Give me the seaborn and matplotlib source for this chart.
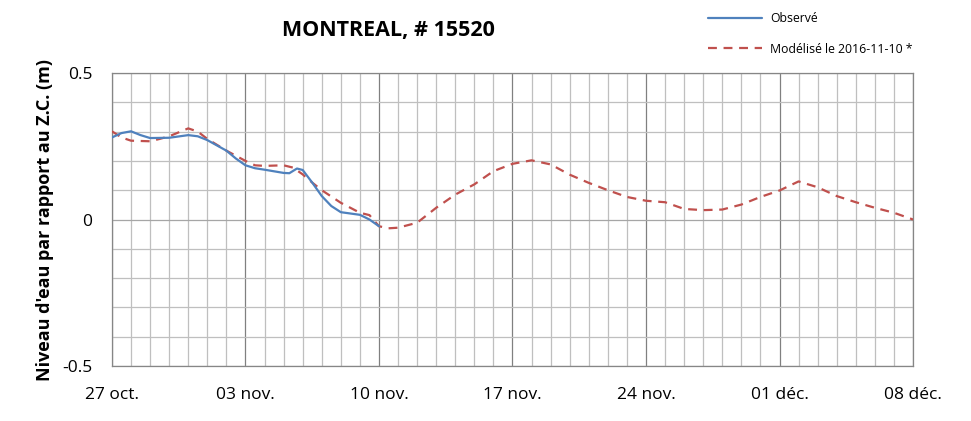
import pandas as pd
import numpy as np
import seaborn as sns
import matplotlib.pyplot as plt
import matplotlib.dates as mdates
from matplotlib.ticker import MultipleLocator

# days since 27 oct 2016
obs_days = [0, 0.5, 1, 1.5, 2, 3, 4, 4.5, 5, 6, 6.5, 7, 7.5, 8, 9, 9.3, 9.7, 10,
            10.5, 11, 11.5, 12, 13, 13.5, 14]
obs_vals = [0.28, 0.295, 0.301, 0.288, 0.278, 0.279, 0.288, 0.284, 0.271, 0.235, 0.208,
            0.185, 0.175, 0.170, 0.159, 0.158, 0.174, 0.169, 0.126, 0.080, 0.046, 0.025,
            0.016, 0.0, -0.023]

mod_days = [0, 0.5, 1, 2, 2.5, 3, 4, 4.5, 5, 6, 7, 7.5, 8, 9, 9.5, 10, 10.5, 11, 12, 13,
            13.5, 14, 14.5, 15, 16, 17, 18, 19, 20, 21, 22, 23, 24, 25, 26, 27, 28, 29,
            30, 31, 32, 33, 34, 35, 36, 37, 38, 39, 40, 41, 42]
mod_vals = [0.301, 0.28, 0.269, 0.267, 0.275, 0.284, 0.311, 0.30, 0.275, 0.235, 0.200,
            0.185, 0.183, 0.185, 0.177, 0.154, 0.126, 0.10, 0.057, 0.023, 0.015, -0.023,
            -0.03, -0.028, -0.011, 0.04, 0.085, 0.12, 0.165, 0.19, 0.202, 0.188, 0.153,
            0.125, 0.10, 0.077, 0.064, 0.059, 0.036, 0.032, 0.034, 0.051, 0.077, 0.099,
            0.13, 0.11, 0.08, 0.059, 0.04, 0.023, 0.0]

tick_labels = ['27 oct.', '03 nov.', '10 nov.', '17 nov.', '24 nov.', '01 déc.', '08 déc.']

start = pd.Timestamp('2016-10-27')
obs = pd.DataFrame({'date': start + pd.to_timedelta(obs_days, unit='D'), 'niveau': obs_vals})
mod = pd.DataFrame({'date': start + pd.to_timedelta(mod_days, unit='D'), 'niveau': mod_vals})

sns.set_style('white')
plt.rcParams['font.family'] = ['Open Sans', 'DejaVu Sans']
plt.rcParams.update({'text.color': 'black', 'axes.labelcolor': 'black',
                     'xtick.color': 'black', 'ytick.color': 'black'})

fig = plt.figure(figsize=(9.71, 4.21), dpi=100)
ax = fig.add_axes([0.1153, 0.1306, 0.825, 0.696])

sns.lineplot(data=obs, x='date', y='niveau', ax=ax, color='#4F81BD', linewidth=1.6,
             label='Observé', zorder=4)
sns.lineplot(data=mod, x='date', y='niveau', ax=ax, color='#C0504D', linewidth=1.6,
             label='Modélisé le 2016-11-10 *', zorder=3)
ax.lines[1].set_dashes([4, 3])

end = start + pd.Timedelta(days=42)
ax.set_xlim(start, end)
ax.set_ylim(-0.5, 0.5)

week_ticks = pd.date_range(start, end, freq='7D')
ax.set_xticks(week_ticks)
ax.set_xticklabels(tick_labels)
ax.xaxis.set_minor_locator(mdates.DayLocator())
ax.set_yticks([-0.5, 0, 0.5])
ax.set_yticklabels(['-0.5', '0', '0.5'])
ax.yaxis.set_minor_locator(MultipleLocator(0.1))

ax.grid(which='minor', color='#BFBFBF', linewidth=0.9)
ax.grid(which='major', axis='x', color='#808080', linewidth=0.9)
ax.grid(which='major', axis='y', color='#A6A6A6', linewidth=0.9)
ax.set_axisbelow(True)
ax.tick_params(which='both', length=0)
ax.tick_params(axis='x', labelsize=12.5, pad=15)
ax.tick_params(axis='y', labelsize=12.5, pad=14)
for s in ax.spines.values():
    s.set_color('#868686')
    s.set_linewidth(0.9)

ax.set_xlabel('')
ax.set_ylabel("Niveau d'eau par rapport au Z.C. (m)", fontsize=13, fontweight='bold', labelpad=6)

fig.text(0.40, 0.928, 'MONTREAL, # 15520', ha='center', va='center', fontsize=15.5,
         fontweight='bold')

ax.get_legend().remove()
h, l = ax.get_legend_handles_labels()
fig.legend(h, l, loc='upper left', bbox_to_anchor=(0.718, 0.998), frameon=False, fontsize=8.8,
           handlelength=4.4, labelspacing=1.45, handletextpad=0.65)

fig.savefig('out.png', dpi=100)
